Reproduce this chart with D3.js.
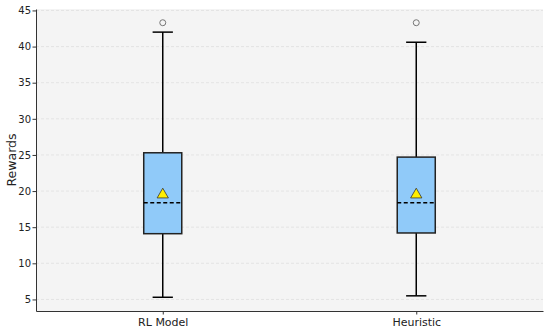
<!DOCTYPE html>
<html>
<head>
<meta charset="utf-8">
<script src="https://cdn.jsdelivr.net/npm/d3@7"></script>
<style>
  body { margin: 0; background: #fff; }
  text { font-family: "DejaVu Sans", sans-serif; }
</style>
</head>
<body>
<script>
// box statistics
var categories = ["RL Model", "Heuristic"];
var q1 = [14.1, 14.2];
var median = [18.4, 18.4];
var q3 = [25.3, 24.7];
var whiskerLow = [5.3, 5.5];
var whiskerHigh = [42.0, 40.6];
var means = [19.5, 19.5];
var outliers = [[43.3], [43.3]];
var yTicks = [5, 10, 15, 20, 25, 30, 35, 40, 45];

var width = 550, height = 331;
var margin = {top: 9, right: 7, bottom: 20, left: 36};

var svg = d3.select("body").append("svg")
  .attr("width", width)
  .attr("height", height);

var x = d3.scaleLinear()
  .domain([0.5, 2.5])
  .range([margin.left, width - margin.right]);

var y = d3.scaleLinear()
  .domain([3.4, 45.2])
  .range([height - margin.bottom, margin.top]);

// plot background
svg.append("rect")
  .attr("x", margin.left)
  .attr("y", margin.top)
  .attr("width", width - margin.left - margin.right)
  .attr("height", height - margin.top - margin.bottom)
  .style("fill", "#f4f4f4");

// horizontal grid
svg.append("g")
  .selectAll("line")
  .data(yTicks)
  .enter()
  .append("line")
    .attr("x1", margin.left)
    .attr("x2", width - margin.right)
    .attr("y1", d => y(d))
    .attr("y2", d => y(d))
    .style("stroke", "#e0e0e0")
    .style("stroke-width", 0.8)
    .style("stroke-dasharray", "3,2");

// axes
var yAxis = svg.append("g")
  .attr("transform", "translate(" + margin.left + ",0)")
  .call(d3.axisLeft(y).tickValues(yTicks).tickSize(3.5).tickSizeOuter(0));

var xAxis = svg.append("g")
  .attr("transform", "translate(0," + (height - margin.bottom) + ")")
  .call(d3.axisBottom(x).tickValues([1, 2]).tickFormat((d, i) => categories[i]).tickSize(3.5).tickSizeOuter(0));

[yAxis, xAxis].forEach(function(a) {
  a.select(".domain").style("stroke", "#333").style("stroke-width", 1);
  a.selectAll(".tick line").style("stroke", "#333");
  a.selectAll(".tick text").style("fill", "#222").style("font-size", "10px");
});
yAxis.selectAll(".tick text").attr("x", -5);
xAxis.selectAll(".tick text").attr("y", 7.5).style("font-size", "11px");

svg.append("text")
  .attr("transform", "translate(16," + (margin.top + (height - margin.top - margin.bottom) / 2) + ") rotate(-90)")
  .attr("text-anchor", "middle")
  .style("font-size", "12.5px")
  .style("fill", "#222")
  .text("Rewards");

// boxes
var boxW = 0.15, capW = 0.08;
var g = svg.append("g");

categories.forEach(function(c, i) {
  var pos = i + 1;
  // whiskers
  g.append("line")
    .attr("x1", x(pos)).attr("x2", x(pos))
    .attr("y1", y(q3[i])).attr("y2", y(whiskerHigh[i]))
    .style("stroke", "#000").style("stroke-width", 1.5);
  g.append("line")
    .attr("x1", x(pos)).attr("x2", x(pos))
    .attr("y1", y(q1[i])).attr("y2", y(whiskerLow[i]))
    .style("stroke", "#000").style("stroke-width", 1.5);
  // caps
  [whiskerHigh[i], whiskerLow[i]].forEach(function(v) {
    g.append("line")
      .attr("x1", x(pos - capW / 2)).attr("x2", x(pos + capW / 2))
      .attr("y1", y(v)).attr("y2", y(v))
      .style("stroke", "#000").style("stroke-width", 1.5);
  });
  // box
  g.append("rect")
    .attr("x", x(pos - boxW / 2))
    .attr("y", y(q3[i]))
    .attr("width", x(pos + boxW / 2) - x(pos - boxW / 2))
    .attr("height", y(q1[i]) - y(q3[i]))
    .style("fill", "#90caf9")
    .style("stroke", "#222")
    .style("stroke-width", 1.5);
  // median
  g.append("line")
    .attr("x1", x(pos - boxW / 2)).attr("x2", x(pos + boxW / 2))
    .attr("y1", y(median[i])).attr("y2", y(median[i]))
    .style("stroke", "#000").style("stroke-width", 1.5)
    .style("stroke-dasharray", "4,2.5");
  // mean marker
  g.append("path")
    .attr("d", d3.symbol().type(d3.symbolTriangle).size(55)())
    .attr("transform", "translate(" + x(pos) + "," + y(means[i]) + ")")
    .style("fill", "#ffee00")
    .style("stroke", "#333")
    .style("stroke-width", 0.8);
  // fliers
  g.selectAll(null)
    .data(outliers[i])
    .enter()
    .append("circle")
      .attr("cx", x(pos))
      .attr("cy", d => y(d))
      .attr("r", 3)
      .style("fill", "none")
      .style("stroke", "#777")
      .style("stroke-width", 1);
});
</script>
</body>
</html>
